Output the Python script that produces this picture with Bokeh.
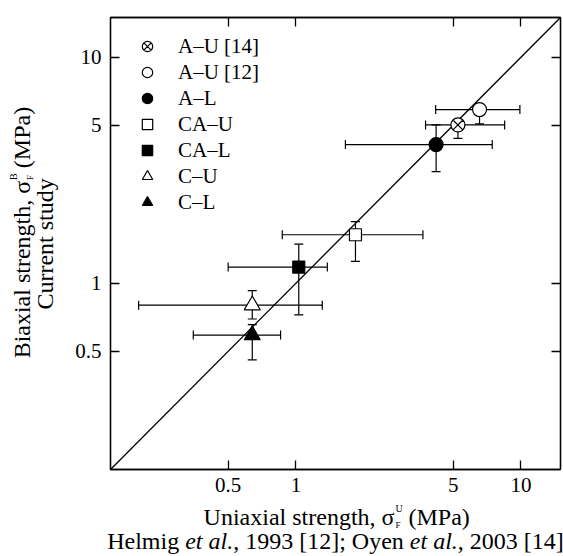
import math
from bokeh.plotting import figure
from bokeh.layouts import row, column
from bokeh.models import (ColumnDataSource, Whisker, TeeHead, FixedTicker, LogAxis,
                          Label, Legend, LegendItem, Range1d)
from bokeh.embed import file_html
from bokeh.resources import INLINE

# ---------------- data ----------------
labels = ["A–U [14]", "A–U [12]", "A–L", "CA–U", "CA–L", "C–U", "C–L"]
uniaxial = [5.25, 6.55, 4.20, 1.84, 1.03, 0.64, 0.64]
uniaxial_lo = [3.77, 4.18, 1.66, 0.87, 0.50, 0.20, 0.35]
uniaxial_hi = [8.47, 9.90, 7.46, 3.67, 1.38, 1.31, 0.855]
biaxial = [5.02, 5.87, 4.11, 1.64, 1.18, 0.80, 0.59]
biaxial_lo = [4.38, 5.07, 3.12, 1.25, 0.725, 0.695, 0.458]
biaxial_hi = [5.30, 6.20, 5.02, 1.875, 1.49, 0.929, 0.657]
axis_limits = [0.15, 15]
tick_values = [0.5, 1, 5, 10]
tick_labels = ["0.5", "1", "5", "10"]

# ---------------- styles / layout ----------------
marker_types = ["circle_x", "circle", "circle", "square", "square", "triangle", "triangle"]
marker_fills = ["white", "white", "black", "white", "black", "white", "black"]
marker_sizes = [14, 14, 14, 12, 12, 16, 16]
FONT = "Liberation Serif"
LEFT_W = 62          # width of the strip holding the y title
MAIN_W, MAIN_H = 501, 501
BOTTOM_H = 55
TITLE_FS = "24px"

p = figure(width=MAIN_W, height=MAIN_H, x_axis_type="log", y_axis_type="log",
           x_range=Range1d(axis_limits[0], axis_limits[1]),
           y_range=Range1d(axis_limits[0], axis_limits[1]),
           output_backend="svg", toolbar_location=None,
           min_border_left=48, min_border_right=3, min_border_top=17, min_border_bottom=32)
p.grid.visible = False
p.background_fill_color = "white"
p.border_fill_color = "white"
p.outline_line_color = "black"
p.outline_line_width = 1.3

p.add_layout(LogAxis(), "above")
p.add_layout(LogAxis(), "right")
bottom_axis = p.below[0]
left_axis = p.left[0]

for ax in list(p.left) + list(p.right) + list(p.above) + list(p.below):
    ax.ticker = FixedTicker(ticks=tick_values)
    ax.major_tick_in = 9
    ax.major_tick_out = 0
    ax.minor_tick_line_color = None
    ax.axis_line_color = "black"
    ax.axis_line_width = 1.3
    ax.major_tick_line_color = "black"
    ax.major_tick_line_width = 1.3
    ax.major_label_overrides = dict(zip(tick_values, tick_labels))
    ax.major_label_text_font = FONT
    ax.major_label_text_font_size = "21px"
    ax.major_label_text_color = "black"
    ax.axis_label = None

for ax in list(p.right) + list(p.above):
    ax.major_label_overrides = {v: "" for v in tick_values}
    ax.major_label_text_font_size = "1px"
    ax.major_label_standoff = 0

bottom_axis.major_label_standoff = 8
left_axis.major_label_standoff = 9

# diagonal y = x
p.line(x=axis_limits, y=axis_limits, line_color="black", line_width=1.3)

# error bars
src = ColumnDataSource(dict(x=uniaxial, y=biaxial, xlo=uniaxial_lo, xhi=uniaxial_hi,
                            ylo=biaxial_lo, yhi=biaxial_hi))
for base, lo, hi, dim in (("y", "xlo", "xhi", "width"), ("x", "ylo", "yhi", "height")):
    p.add_layout(Whisker(source=src, base=base, lower=lo, upper=hi, dimension=dim,
                         level="underlay", line_width=1.2, line_color="black",
                         upper_head=TeeHead(size=9, line_width=1.2, line_color="black"),
                         lower_head=TeeHead(size=9, line_width=1.2, line_color="black")))

# markers + legend
items = []
for i, lab in enumerate(labels):
    r = p.scatter(x=[uniaxial[i]], y=[biaxial[i]], marker=marker_types[i],
                  size=marker_sizes[i], fill_color=marker_fills[i],
                  line_color="black", line_width=1.2)
    items.append(LegendItem(label=lab, renderers=[r]))

legend = Legend(items=items, location=(20, 254), orientation="vertical",
                glyph_width=34, glyph_height=26, spacing=0, padding=0, margin=0,
                label_standoff=14, border_line_color=None, background_fill_alpha=0,
                label_text_font=FONT, label_text_font_size="21px",
                label_text_color="black")
p.add_layout(legend)


# ---------------- title strips (pixel coordinates, y up) ----------------
def strip(w, h):
    f = figure(width=w, height=h, x_range=Range1d(0, w), y_range=Range1d(0, h),
               output_backend="svg", toolbar_location=None, min_border=0,
               x_axis_location=None, y_axis_location=None)
    f.grid.visible = False
    f.outline_line_color = None
    f.background_fill_color = "white"
    f.border_fill_color = "white"
    return f


def put(f, text, x, y, size, angle=0.0, align="left", style="normal"):
    f.add_layout(Label(x=x, y=y, text=text, text_font=FONT, text_font_size=size,
                       text_font_style=style, text_color="black", angle=angle,
                       text_align=align, text_baseline="middle"))


# left strip: y title
left = strip(LEFT_W, MAIN_H)
A = math.pi / 2
YT_X, SIG_Y = 21, 320
put(left, "Biaxial strength, σ", YT_X, SIG_Y, TITLE_FS, angle=A, align="right")
put(left, "B", YT_X - 8, SIG_Y + 1, "10px", angle=A)
put(left, "F", YT_X + 8, SIG_Y + 1, "9px", angle=A)
put(left, "(MPa)", YT_X, SIG_Y + 14, TITLE_FS, angle=A)
put(left, "Current study", 44, 250, TITLE_FS, angle=A, align="center")

# bottom strip: x title and source line
bottom = strip(LEFT_W + MAIN_W, BOTTOM_H)
XT_Y, SIG_X = 40, 394
put(bottom, "Uniaxial strength, σ", SIG_X, XT_Y, TITLE_FS, align="right")
put(bottom, "U", SIG_X + 1, XT_Y + 8, "10px")
put(bottom, "F", SIG_X + 1, XT_Y - 8, "9px")
put(bottom, "(MPa)", SIG_X + 14, XT_Y, TITLE_FS)

fs = 24
em = [3.25, 2.0, 7.36, 2.0, 4.416]
texts = ["Helmig", "et al.", ", 1993 [12]; Oyen", "et al.", ", 2003 [14]"]
styles = ["normal", "italic", "normal", "italic", "normal"]
xpos = 335 - sum(em) * fs / 2
for t, w, s in zip(texts, em, styles):
    put(bottom, t, xpos, 16, "%dpx" % fs, style=s)
    xpos += w * fs

layout = column(row(left, p), bottom)
open("out.html", "w").write(file_html(layout, INLINE))
